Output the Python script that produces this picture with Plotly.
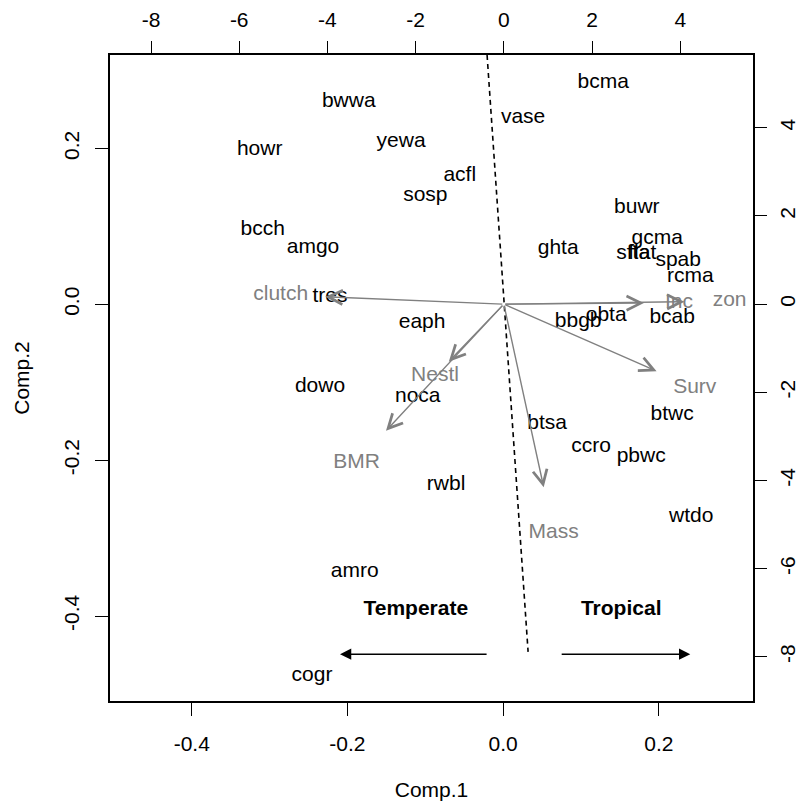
import plotly.graph_objects as go

# ---- species scores (Comp.1, Comp.2) ----
species = ["bcma", "bwwa", "vase", "howr", "yewa", "acfl", "sosp", "bcch", "amgo",
           "ghta", "buwr", "gcma", "sfta", "flat", "spab", "rcma", "bcab", "obta",
           "bbgb", "tres", "eaph", "dowo", "noca", "btsa", "btwc", "ccro", "pbwc",
           "rwbl", "wtdo", "amro", "cogr"]
comp1 = [0.1285, -0.1983, 0.0257, -0.3127, -0.1311, -0.0557, -0.0999, -0.3089, -0.2442,
         0.0707, 0.1718, 0.1979, 0.1671, 0.1787, 0.2249, 0.2404, 0.2172, 0.1324,
         0.0964, -0.2224, -0.1041, -0.2352, -0.1096, 0.0566, 0.2172, 0.1131, 0.1774,
         -0.0733, 0.2416, -0.1906, -0.2455]
comp2 = [0.2841, 0.2601, 0.2392, 0.1981, 0.2083, 0.1647, 0.1390, 0.0963, 0.0723,
         0.0710, 0.1240, 0.0838, 0.0646, 0.0646, 0.0556, 0.0350, -0.0176, -0.0150,
         -0.0227, 0.0098, -0.0240, -0.1058, -0.1186, -0.1537, -0.1421, -0.1832, -0.1960,
         -0.2320, -0.2731, -0.3433, -0.4772]

# ---- variable loadings (secondary axes) ----
variables = ["clutch", "Inc", "zon", "Nestl", "BMR", "Mass", "Surv"]
load1 = [-5.06, 3.97, 5.12, -1.56, -3.34, 1.13, 4.33]
load2 = [0.21, 0.03, 0.07, -1.63, -3.59, -5.19, -1.90]
arrow_frac = 0.8  # R biplot draws arrows to 0.8 of the label position

# ---- divider line and region labels ----
divider_x = [-0.0206, 0.0321]
divider_y = [0.320, -0.446]
regions = ["Temperate", "Tropical"]
region_x = [-0.1122, 0.1517]
region_y = [-0.3924, -0.3924]
region_arrow_from = [-0.0193, 0.0733]
region_arrow_to = [-0.2095, 0.2404]
region_arrow_y = -0.449

x_ticks = [-0.4, -0.2, 0.0, 0.2]
y_ticks = [-0.4, -0.2, 0.0, 0.2]
sec_ticks = [-8, -6, -4, -2, 0, 2, 4]

FONT = "Liberation Sans, Arial, Helvetica, sans-serif"
GRAY = "rgb(128,128,128)"

fig = go.Figure()

fig.add_trace(go.Scatter(x=divider_x, y=divider_y, mode="lines",
                         line=dict(color="black", width=1.6, dash="5px,4px"),
                         showlegend=False, hoverinfo="skip"))

fig.add_trace(go.Scatter(x=comp1, y=comp2, mode="text", text=species,
                         textposition="middle center",
                         textfont=dict(family=FONT, size=21, color="black"),
                         showlegend=False))

fig.add_trace(go.Scatter(x=load1, y=load2, mode="text", text=variables,
                         textposition="middle center",
                         textfont=dict(family=FONT, size=21, color=GRAY),
                         xaxis="x2", yaxis="y2", showlegend=False))

fig.add_trace(go.Scatter(x=region_x, y=region_y, mode="text",
                         text=["<b>%s</b>" % r for r in regions],
                         textposition="middle center",
                         textfont=dict(family=FONT, size=21, color="black"),
                         showlegend=False))

annotations = []
for vx, vy in zip(load1, load2):
    annotations.append(dict(x=vx * arrow_frac, y=vy * arrow_frac, ax=0, ay=0,
                            xref="x2", yref="y2", axref="x2", ayref="y2",
                            text="", showarrow=True, arrowhead=5, arrowsize=2.0,
                            arrowwidth=1.4, arrowcolor=GRAY, standoff=0))
for x0, x1 in zip(region_arrow_from, region_arrow_to):
    annotations.append(dict(x=x1, y=region_arrow_y, ax=x0, ay=region_arrow_y,
                            xref="x", yref="y", axref="x", ayref="y",
                            text="", showarrow=True, arrowhead=2, arrowsize=1.5,
                            arrowwidth=1.5, arrowcolor="black", standoff=0))

axis_common = dict(showgrid=False, zeroline=False, ticks="outside", ticklen=13,
                   tickwidth=1.2, tickcolor="black", automargin=False,
                   tickfont=dict(family=FONT, size=21, color="black"))

# the page body adds an 8px margin, so the figure is a bit smaller and offset
fig.update_layout(
    width=790, height=793,
    margin=dict(l=102, r=45, t=47, b=100),
    paper_bgcolor="white", plot_bgcolor="white",
    showlegend=False,
    annotations=annotations,
    xaxis=dict(range=[-0.505, 0.321], tickvals=x_ticks,
               ticktext=["%.1f" % v for v in x_ticks],
               showline=True, linecolor="black", linewidth=1.5, mirror=True,
               title=dict(text="Comp.1", font=dict(family=FONT, size=21, color="black"),
                          standoff=28),
               ticklabelstandoff=10, **axis_common),
    yaxis=dict(range=[-0.509, 0.320], tickvals=y_ticks,
               ticktext=["%.1f" % v for v in y_ticks], tickangle=-90,
               showline=True, linecolor="black", linewidth=1.5, mirror=True,
               title=dict(text="Comp.2", font=dict(family=FONT, size=21, color="black"),
                          standoff=24),
               ticklabelstandoff=8, **axis_common),
    xaxis2=dict(range=[-8.93, 5.65], overlaying="x", side="top",
                tickvals=sec_ticks, ticktext=[str(v) for v in sec_ticks],
                showline=False, ticklabelstandoff=6, **axis_common),
    yaxis2=dict(range=[-9.0, 5.65], overlaying="y", side="right",
                tickvals=sec_ticks, ticktext=[str(v) for v in sec_ticks], tickangle=-90,
                showline=False, ticklabelstandoff=3, **axis_common),
)

fig.write_html("out.html")
